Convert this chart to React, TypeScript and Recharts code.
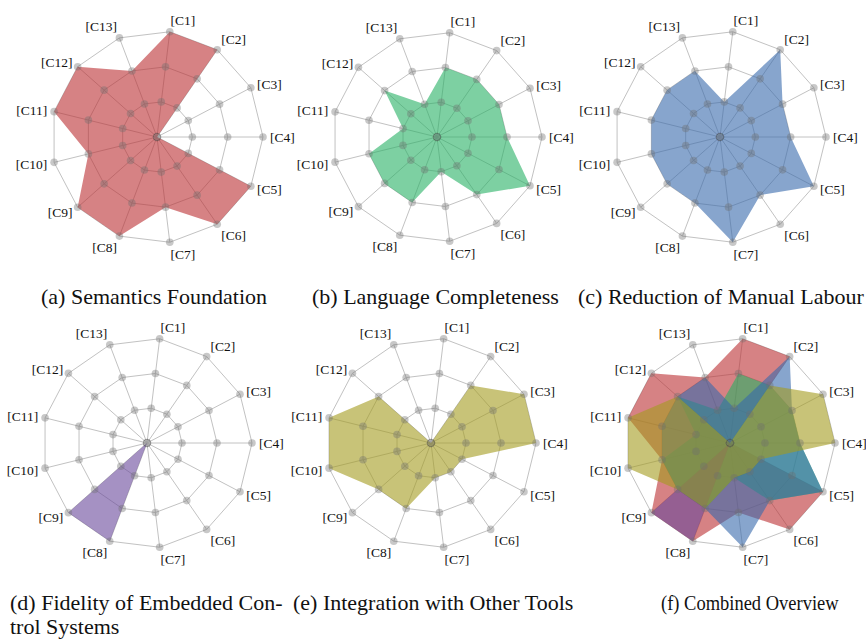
import React from "react";
import {
  RadarChart,
  Radar,
  PolarGrid,
  PolarAngleAxis,
  PolarRadiusAxis,
} from "recharts";

const CATEGORIES = [
  "[C1]", "[C2]", "[C3]", "[C4]", "[C5]", "[C6]", "[C7]",
  "[C8]", "[C9]", "[C10]", "[C11]", "[C12]", "[C13]",
];

const SEMANTICS = [3, 3, 0, 0, 3, 3, 2, 3, 3, 2, 3, 3, 2];
const LANGUAGE = [2, 2, 2, 2, 3, 2, 1, 2, 2, 2, 1, 2, 1];
const MANUAL = [1, 3, 2, 2, 3, 2, 3, 2, 2, 2, 2, 2, 2];
const FIDELITY = [0, 0, 0, 0, 0, 0, 0, 3, 3, 0, 0, 0, 0];
const INTEGRATION = [0, 2, 3, 3, 1, 1, 1, 2, 2, 3, 3, 2, 0];

// grid levels (0 = centre, 3 = outer ring)
const LEVELS = [0, 1, 2, 3];

const SERIF = '"Liberation Serif", "Times New Roman", Times, serif';

const COLORS = {
  semantics: "#bb2f32",
  language: "#26b164",
  manual: "#3769ac",
  fidelity: "#69489b",
  integration: "#a39b1e",
};

const DATA = CATEGORIES.map((cat, i) => {
  const row: Record<string, string | number> = {
    cat,
    semantics: SEMANTICS[i],
    language: LANGUAGE[i],
    manual: MANUAL[i],
    fidelity: FIDELITY[i],
    integration: INTEGRATION[i],
  };
  LEVELS.forEach((l) => {
    row[`lv${l}`] = l;
  });
  return row;
});

const STEP = 360 / CATEGORIES.length;
const START = 3 * STEP; // C4 sits on the horizontal axis

type Key = keyof typeof COLORS;

interface PanelProps {
  keys: Key[];
  left: number;
  top: number;
  cx: number;
  cy: number;
  r: number;
}

function Panel({ keys, left, top, cx, cy, r }: PanelProps) {
  return (
    <div style={{ position: "absolute", left, top }}>
      <RadarChart
        width={300}
        height={290}
        data={DATA}
        cx={cx}
        cy={cy}
        outerRadius={r}
        startAngle={START}
        endAngle={START - 360}
        margin={{ top: 0, right: 0, bottom: 0, left: 0 }}
      >
        <PolarGrid gridType="polygon" stroke="#c2c2c2" strokeWidth={1} />
        <PolarRadiusAxis
          domain={[0, 3]}
          tickCount={4}
          tick={false}
          axisLine={false}
        />
        <PolarAngleAxis
          dataKey="cat"
          tickLine={false}
          axisLine={false}
          tickSize={7}
          tick={{ fontFamily: SERIF, fontSize: 13.5, fill: "#111" }}
        />
        {keys.map((k) => (
          <Radar
            key={k}
            dataKey={k}
            fill={COLORS[k]}
            fillOpacity={0.6}
            stroke="none"
            isAnimationActive={false}
          />
        ))}
        {LEVELS.map((l) => (
          <Radar
            key={`lv${l}`}
            dataKey={`lv${l}`}
            fill="none"
            stroke="none"
            // the 13 centre dots sit on top of each other, so keep them faint
            dot={{
              r: 3.8,
              fill: "#6f6f6f",
              fillOpacity: l === 0 ? 0.035 : 0.38,
              stroke: l === 0 ? "#555" : "none",
              strokeOpacity: 0.04,
            }}
            isAnimationActive={false}
          />
        ))}
      </RadarChart>
    </div>
  );
}

function Caption({
  left,
  top,
  text,
  squeeze = 1,
}: {
  left: number;
  top: number;
  text: string;
  squeeze?: number;
}) {
  return (
    <div
      style={{
        position: "absolute",
        left,
        top,
        fontFamily: SERIF,
        fontSize: 22,
        lineHeight: "24px",
        color: "#111",
        whiteSpace: "nowrap",
        transform: squeeze !== 1 ? `scaleX(${squeeze})` : undefined,
        transformOrigin: "left center",
      }}
    >
      {text}
    </div>
  );
}

export default function App() {
  return (
    <div
      style={{
        position: "absolute",
        left: 0,
        top: 0,
        width: 866,
        height: 640,
        background: "#fff",
        overflow: "hidden",
      }}
    >
      <Panel keys={["semantics"]} left={0} top={0} cx={157} cy={137} r={106} />
      <Panel keys={["language"]} left={290} top={0} cx={147} cy={137} r={105} />
      <Panel keys={["manual"]} left={566} top={0} cx={154} cy={137} r={106} />
      <Panel keys={["fidelity"]} left={0} top={306} cx={147} cy={137} r={105} />
      <Panel keys={["integration"]} left={290} top={306} cx={141} cy={137} r={105} />
      <Panel
        keys={["semantics", "language", "manual", "fidelity", "integration"]}
        left={566}
        top={306}
        cx={164}
        cy={137}
        r={105}
      />

      <Caption left={41} top={285} text="(a) Semantics Foundation" />
      <Caption left={312} top={285} text="(b) Language Completeness" />
      <Caption left={578} top={285} text="(c) Reduction of Manual Labour" />
      <Caption left={10} top={591} text="(d) Fidelity of Embedded Con-" />
      <Caption left={10} top={615} text="trol Systems" />
      <Caption left={293} top={591} text="(e) Integration with Other Tools" />
      <Caption left={661} top={591} text="(f) Combined Overview" squeeze={0.84} />
    </div>
  );
}
